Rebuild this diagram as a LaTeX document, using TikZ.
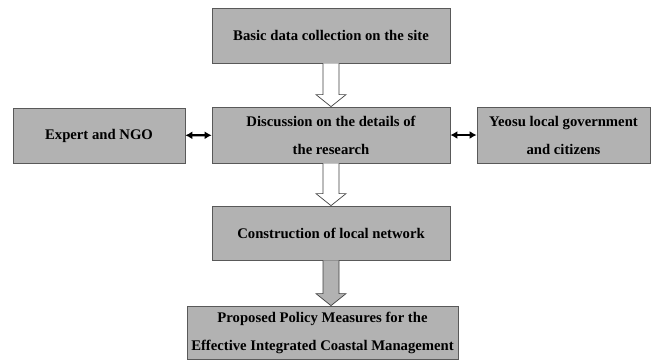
\documentclass[tikz,border=0pt]{standalone}
\usepackage{fontspec}
\setmainfont{Liberation Serif}
\usetikzlibrary{arrows.meta,calc}

\begin{document}
\begin{tikzpicture}[x=1pt,y=-1pt,
    stage/.style={draw=black!65, line width=0.8pt, fill=black!30, inner sep=0pt,
      minimum width=238pt, minimum height=55pt, align=center,
      font=\bfseries\fontsize{14.7}{28}\selectfont},
    hollow/.style={draw=black!75, line width=0.7pt, fill=white},
    link/.style={{Latex[length=7pt,width=8pt]}-{Latex[length=7pt,width=8pt]}, line width=2.2pt}]

\useasboundingbox (0,0) rectangle (652,360);
\node [stage] (site) at (331,35.5){Basic data collection on the site};
\node [stage, minimum height=56pt] (discuss) at (331,135){Discussion on the details of\\the research};
\node [stage, minimum width=172pt] (expert) at (99,135.5){Expert and NGO};
\node [stage, minimum width=173pt, minimum height=56pt] (yeosu) at (563.5,135){Yeosu local government\\and citizens};
\node [stage, minimum height=54pt] (network) at (331,233){Construction of local network};
\node [stage, minimum width=271pt, minimum height=53pt] (policy) at (322.5,332.5){Proposed Policy Measures for the\\Effective Integrated Coastal Management};
\draw [hollow] let \p1=(site.south), \p2=(discuss.north) in
  (\x1-8pt,\y1) -- (\x1-8pt,\y2+12pt) -- (\x1-15pt,\y2+12pt) -- (\x1,\y2)
  -- (\x1+15pt,\y2+12pt) -- (\x1+8pt,\y2+12pt) -- (\x1+8pt,\y1);
\draw [hollow] let \p1=(discuss.south), \p2=(network.north) in
  (\x1-8pt,\y1) -- (\x1-8pt,\y2+12pt) -- (\x1-15pt,\y2+12pt) -- (\x1,\y2)
  -- (\x1+15pt,\y2+12pt) -- (\x1+8pt,\y2+12pt) -- (\x1+8pt,\y1);
\draw [hollow, fill=black!30] let \p1=(network.south), \p2=(policy.north) in
  (\x1-8pt,\y1) -- (\x1-8pt,\y2+12pt) -- (\x1-15pt,\y2+12pt) -- (\x1,\y2)
  -- (\x1+15pt,\y2+12pt) -- (\x1+8pt,\y2+12pt) -- (\x1+8pt,\y1);
\draw [link] (expert) -- (discuss);
\draw [link] (discuss) -- (yeosu);
\end{tikzpicture}
\end{document}
